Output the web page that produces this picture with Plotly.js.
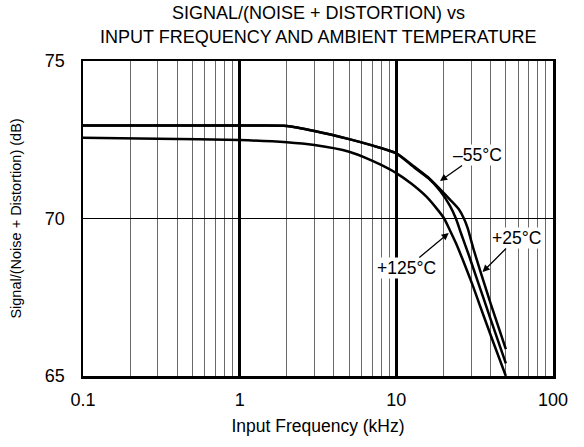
<!DOCTYPE html>
<html>
<head>
<meta charset="utf-8">
<script src="https://cdn.plot.ly/plotly-3.0.1.min.js"></script>
<style>html,body{margin:0;padding:0;background:#fff;}#chart{width:584px;height:447px;}</style>
</head>
<body>
<div id="chart"></div>
<script>
// Input frequency (kHz) and SINAD (dB) per ambient temperature
const freqM55 = [0.1, 0.5, 1, 2, 3, 5, 7, 10, 13, 16, 19, 22, 25, 27, 28.5, 31, 35, 40, 50];
const sinadM55 = [72.95, 72.95, 72.95, 72.94, 72.78, 72.52, 72.32, 72.07, 71.65, 71.3, 70.93, 70.6, 70.3, 70.0, 69.7, 69.05, 68.2, 67.3, 65.85];

const freqP25 = [0.1, 0.5, 1, 2, 3, 5, 7, 10, 13, 16, 19, 22, 24, 26, 29, 33, 40, 50];
const sinadP25 = [72.95, 72.95, 72.95, 72.94, 72.78, 72.52, 72.32, 72.07, 71.62, 71.28, 70.88, 70.4, 70.0, 69.5, 68.84, 68.02, 66.8, 65.4];

const freqP125 = [0.1, 0.3, 1, 2, 3, 5, 6.7, 8, 10, 12.5, 15.5, 18, 20.2, 22, 24, 26.4, 30.6, 33.8, 41, 50];
const sinadP125 = [72.56, 72.53, 72.49, 72.42, 72.33, 72.12, 71.88, 71.7, 71.44, 71.1, 70.7, 70.33, 70.0, 69.62, 69.22, 68.72, 67.9, 67.3, 66.15, 65.0];

const xTickVals = [0.1, 1, 10, 100];
const xTickText = ["0.1", "1", "10", "100"];
const yTickVals = [65, 70, 75];
const yTickText = ["65", "70", "75"];

const titleLines = ["SIGNAL/(NOISE + DISTORTION) vs", "INPUT FREQUENCY AND AMBIENT TEMPERATURE"];

// label annotations: text, freq at arrow tip (kHz), dB at arrow tip
const labelText = ["\u201355\u00b0C", "+25\u00b0C", "+125\u00b0C"];
const labelFreq = [19.0, 35.5, 21.6];
const labelDb = [71.19, 68.30, 69.54];

const FONT = "Arial, 'Liberation Sans', sans-serif";
const lineStyle = {color: "#000", width: 2.5, shape: "spline", smoothing: 0.6};

const traces = [
  {x: freqM55, y: sinadM55, mode: "lines", line: lineStyle, hoverinfo: "skip"},
  {x: freqP25, y: sinadP25, mode: "lines", line: lineStyle, hoverinfo: "skip"},
  {x: freqP125, y: sinadP125, mode: "lines", line: lineStyle, hoverinfo: "skip"}
];

const offsets = [[37, -26], [34, -34], [-42, 35]];
const annotations = labelText.map((t, i) => ({
  text: t, xref: "x", yref: "y",
  x: Math.log10(labelFreq[i]), y: labelDb[i],
  ax: offsets[i][0], ay: offsets[i][1],
  showarrow: true, arrowhead: 2, arrowsize: 1.1, arrowwidth: 1.3, arrowcolor: "#000",
  standoff: 0, startstandoff: 0,
  bgcolor: "#fff", borderpad: 0,
  font: {family: FONT, size: 17.5, color: "#000"}
}));
const titleShift = [48, 24];
titleLines.forEach((t, i) => annotations.push({
  text: t, xref: "paper", yref: "paper", x: 0.5, y: 1,
  xanchor: "center", yanchor: "middle", yshift: titleShift[i],
  showarrow: false, font: {family: FONT, size: 18, color: "#000"}
}));

const layout = {
  width: 584, height: 447,
  margin: {l: 83, r: 31, t: 61, b: 71},
  paper_bgcolor: "#fff", plot_bgcolor: "#fff",
  showlegend: false,
  xaxis: {
    type: "log", range: [-1, 2],
    tickvals: xTickVals, ticktext: xTickText,
    showgrid: true, gridcolor: "#000", gridwidth: 2.5,
    minor: {dtick: "D1", showgrid: true, gridcolor: "#6a6a6a", gridwidth: 1, ticks: ""},
    showline: true, mirror: true, linecolor: "#000", linewidth: 2.5,
    ticks: "", ticklabelstandoff: 6,
    tickfont: {family: FONT, size: 18, color: "#000"},
    zeroline: false,
    title: {text: "Input Frequency (kHz)", font: {family: FONT, size: 17.5, color: "#000"}, standoff: 11}
  },
  yaxis: {
    range: [65, 75],
    tickvals: yTickVals, ticktext: yTickText,
    showgrid: true, gridcolor: "#000", gridwidth: 1,
    showline: true, mirror: true, linecolor: "#000", linewidth: 2.5,
    ticks: "", ticklabelstandoff: 12,
    tickfont: {family: FONT, size: 18, color: "#000"},
    zeroline: false,
    title: {text: "Signal/(Noise + Distortion) (dB)", font: {family: FONT, size: 14.5, color: "#000"}, standoff: 20}
  },
  annotations: annotations
};

Plotly.newPlot("chart", traces, layout, {staticPlot: true, displayModeBar: false});
</script>
</body>
</html>
